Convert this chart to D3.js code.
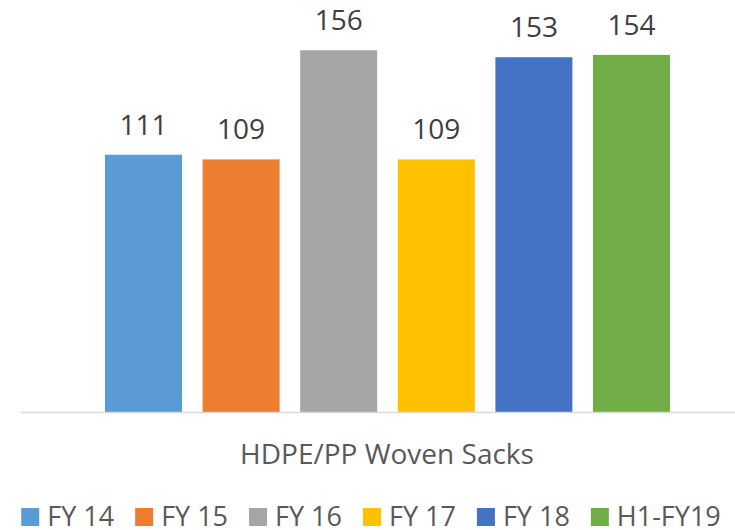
<!DOCTYPE html>
<html>
<head>
<meta charset="utf-8">
<script src="https://cdn.jsdelivr.net/npm/d3@7"></script>
<style>
  body { margin: 0; background: #fff; }
  text { font-family: "Open Sans", sans-serif; }
</style>
</head>
<body>
<div id="main"></div>
<script>
var width = 735;
var height = 530;

var categories = ['FY 14', 'FY 15', 'FY 16', 'FY 17', 'FY 18', 'H1-FY19'];
var values = [111, 109, 156, 109, 153, 154];
var colors = ['#5B9BD5', '#ED7D31', '#A5A5A5', '#FFC000', '#4472C4', '#70AD47'];
var axisTitle = 'HDPE/PP Woven Sacks';

var baseY = 412.5;

var svg = d3.select('#main').append('svg')
    .attr('width', width)
    .attr('height', height);

var xScale = d3.scaleBand()
    .domain(categories)
    .range([94.7, 680.3])
    .paddingInner(0.211)
    .paddingOuter(0.1055);

var yScale = d3.scaleLinear()
    .domain([0, 180])
    .range([baseY, baseY - 180 * 2.322]);

svg.selectAll('.bar')
    .data(values)
    .enter()
    .append('rect')
    .attr('class', 'bar')
    .attr('x', function(d, i) { return xScale(categories[i]); })
    .attr('y', function(d) { return yScale(d); })
    .attr('width', xScale.bandwidth())
    .attr('height', function(d) { return baseY - yScale(d); })
    .attr('fill', function(d, i) { return colors[i]; });

// baseline
svg.append('line')
    .attr('x1', 21)
    .attr('x2', width)
    .attr('y1', baseY)
    .attr('y2', baseY)
    .attr('stroke', '#d9d9d9')
    .attr('stroke-width', 1.5);

// value labels
svg.selectAll('.label')
    .data(values)
    .enter()
    .append('text')
    .attr('class', 'label')
    .attr('x', function(d, i) { return xScale(categories[i]) + xScale.bandwidth() / 2; })
    .attr('y', function(d) { return yScale(d) - 20; })
    .attr('text-anchor', 'middle')
    .attr('font-size', 28)
    .attr('fill', '#404040')
    .text(function(d) { return d; });

svg.append('text')
    .attr('x', 387)
    .attr('y', 463.5)
    .attr('text-anchor', 'middle')
    .attr('font-size', 28)
    .attr('fill', '#595959')
    .text(axisTitle);

// legend
var legend = svg.append('g').attr('class', 'legend');
var items = legend.selectAll('.item')
    .data(categories)
    .enter()
    .append('g')
    .attr('class', 'item');

items.append('rect')
    .attr('x', 0)
    .attr('y', 508)
    .attr('width', 18)
    .attr('height', 18)
    .attr('fill', function(d, i) { return colors[i]; });

items.append('text')
    .attr('x', 26)
    .attr('y', 526)
    .attr('font-size', 27)
    .attr('fill', '#595959')
    .text(function(d) { return d; });

var xPos = 0;
var gap = 21;
items.each(function() {
    var w = 26 + d3.select(this).select('text').node().getComputedTextLength();
    d3.select(this).attr('transform', 'translate(' + xPos + ',0)');
    xPos += w + gap;
});
var totalW = xPos - gap;
legend.attr('transform', 'translate(' + (371 - totalW / 2) + ',0)');
</script>
</body>
</html>
